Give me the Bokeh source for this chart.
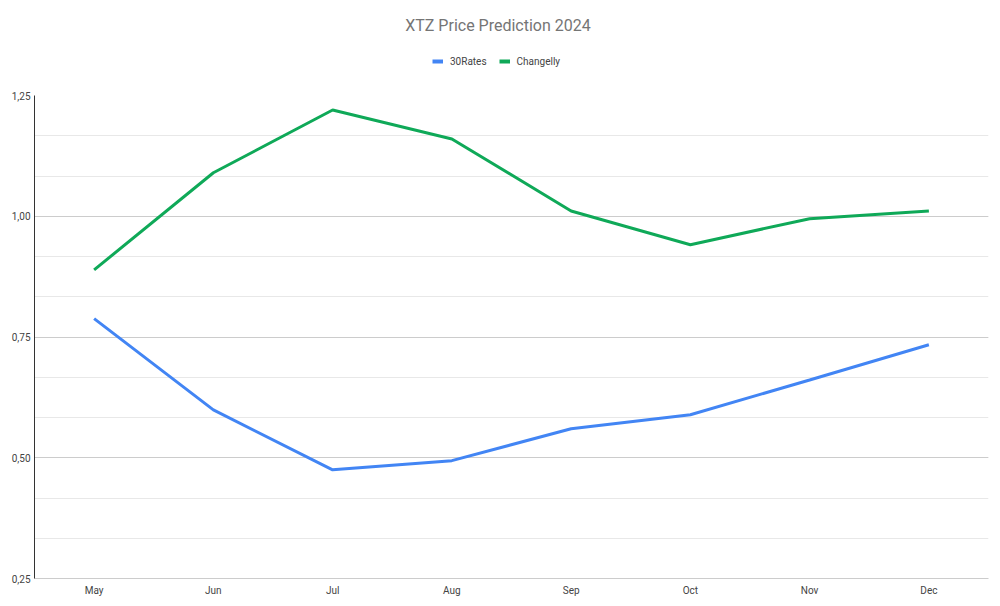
from bokeh.plotting import figure
from bokeh.models import (FactorRange, Range1d, FixedTicker, CustomJSTickFormatter,
                          Legend, LegendItem, Label)
from bokeh.layouts import column
from bokeh.embed import file_html
from bokeh.resources import INLINE

months = ["May", "Jun", "Jul", "Aug", "Sep", "Oct", "Nov", "Dec"]
rates30 = [0.788, 0.599, 0.475, 0.494, 0.560, 0.589, 0.661, 0.734]
changelly = [0.889, 1.090, 1.220, 1.160, 1.011, 0.941, 0.995, 1.011]
y_ticks = [0.25, 0.50, 0.75, 1.00, 1.25]
y_minor = [0.25 + i * 0.25 / 3 for i in range(13)]
title_text = "XTZ Price Prediction 2024"
series_names = ["30Rates", "Changelly"]
colors = ["#4285F4", "#0FA958"]

FONT = "Roboto"
W = 992
HEAD_H = 85
FRAME_LEFT = 34

# ---- header: title + legend (its frame is aligned with the chart's frame) ----
head = figure(width=W, height=HEAD_H, x_range=Range1d(0, 1), y_range=Range1d(0, 1),
              x_axis_type=None, y_axis_type=None, output_backend="svg",
              toolbar_location=None, min_border=0)
head.outline_line_color = None
head.xgrid.visible = False
head.ygrid.visible = False
head.add_layout(Label(x=497.5 - FRAME_LEFT, y=HEAD_H - 25, x_units="screen", y_units="screen",
                      text=title_text, text_align="center", text_baseline="middle",
                      text_font=FONT, text_font_size="16px", text_color="#757575"))
# legend proxies (single off-range point: nothing is drawn in the header frame)
d1 = head.line(x=[-10], y=[-10], line_color=colors[0], line_width=4)
d2 = head.line(x=[-10], y=[-10], line_color=colors[1], line_width=4)
legend = Legend(items=[LegendItem(label=series_names[0], renderers=[d1]),
                       LegendItem(label=series_names[1], renderers=[d2])],
                orientation="horizontal", location=(432 - FRAME_LEFT, HEAD_H - 67),
                glyph_width=11, glyph_height=12, label_height=12, label_standoff=7,
                spacing=12, padding=0, margin=0, border_line_color=None,
                background_fill_alpha=0, label_text_font=FONT,
                label_text_font_size="10px", label_text_color="#444444")
head.add_layout(legend, "center")

# ---- main chart ----
p = figure(width=W, height=598 - HEAD_H, x_range=FactorRange(*months, range_padding=0),
           y_range=Range1d(0.25, 1.25), output_backend="svg", toolbar_location=None,
           min_border_left=FRAME_LEFT, min_border_right=4, min_border_top=95 - HEAD_H,
           min_border_bottom=20)
p.outline_line_color = None

p.line(months, rates30, line_color=colors[0], line_width=3)
p.line(months, changelly, line_color=colors[1], line_width=3)

p.yaxis.ticker = FixedTicker(ticks=y_ticks, minor_ticks=y_minor)
p.yaxis.formatter = CustomJSTickFormatter(code="return tick.toFixed(2).replace('.', ',');")
p.yaxis.axis_line_color = "#333333"
p.yaxis.axis_line_width = 1
p.yaxis.major_tick_line_color = None
p.yaxis.minor_tick_line_color = None
p.yaxis.major_tick_out = 0
p.yaxis.minor_tick_out = 0
p.yaxis.major_label_text_font = FONT
p.yaxis.major_label_text_font_size = "10px"
p.yaxis.major_label_text_color = "#444444"
p.yaxis.major_label_standoff = 4

p.xaxis.axis_line_color = "#cccccc"
p.xaxis.major_tick_line_color = None
p.xaxis.minor_tick_line_color = None
p.xaxis.major_tick_out = 0
p.xaxis.minor_tick_out = 0
p.xaxis.major_label_text_font = FONT
p.xaxis.major_label_text_font_size = "10px"
p.xaxis.major_label_text_color = "#444444"
p.xaxis.major_label_standoff = 6

p.xgrid.grid_line_color = None
p.ygrid.grid_line_color = "#cccccc"
p.ygrid.minor_grid_line_color = "#e8e8e8"

layout = column(head, p, spacing=0)
open("out.html", "w").write(file_html(layout, INLINE))
